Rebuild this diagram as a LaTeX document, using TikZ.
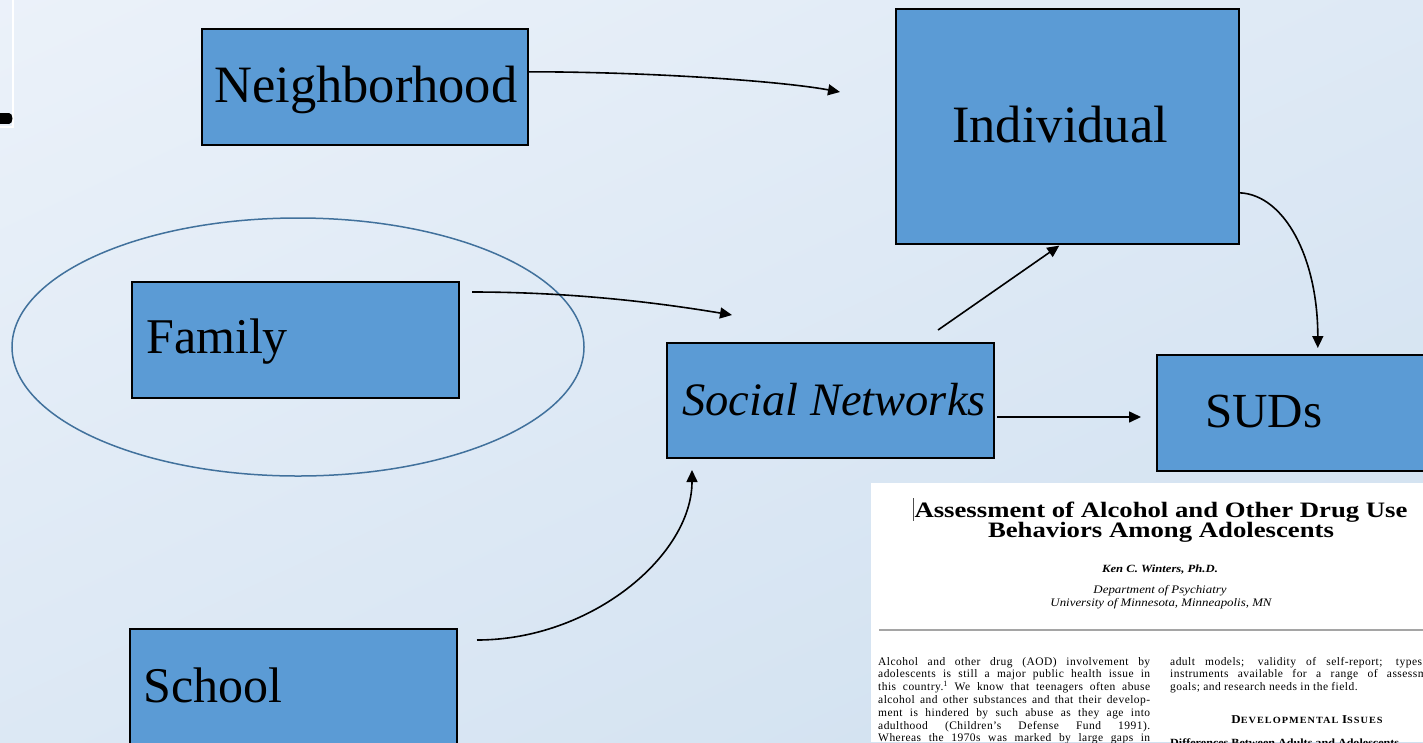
\documentclass[tikz,border=0pt]{standalone}
\usepackage{fontspec}
\usepackage{graphicx}
\setmainfont{Liberation Serif}
\newfontfamily\paperfont[LetterSpace=4]{Liberation Serif}
\newfontfamily\headfont[LetterSpace=10]{Liberation Serif}
\usetikzlibrary{arrows.meta}

\definecolor{boxblue}{RGB}{91,155,213}
\definecolor{ringblue}{RGB}{65,113,156}
\definecolor{bgtop}{RGB}{236,242,250}
\definecolor{bgbot}{RGB}{206,223,239}
\definecolor{rulegray}{RGB}{165,165,165}

\begin{document}
\begin{tikzpicture}[x=1pt,y=-1pt,
  box/.style={draw=black, line width=1.6pt, fill=boxblue, inner sep=0pt, anchor=north west},
  lbl/.style={anchor=base west, inner sep=0pt, font=\fontsize{#1}{#1}\selectfont},
  link/.style={line width=1.6pt, -{Triangle[length=12pt,width=11pt]}},
  ptext/.style={inner sep=0pt, anchor=base west, font=\paperfont\fontsize{11.5}{13}\selectfont},
  ctext/.style={inner sep=0pt, anchor=base},
]
\useasboundingbox (0,0) rectangle (1423,742);
\clip (0,0) rectangle (1423,742);

% background
\shade[top color=bgtop, bottom color=bgbot, shading angle=25] (-200,-200) rectangle (1623,942);
\draw[white, line width=1.5pt] (13,0) -- (13,127) -- (0,127);
\fill[black] (0,113) rectangle (9,124);
\fill[black] (9,118.5) ellipse (3.5 and 5.5);

% grouping ring around the family box
\draw[ringblue, line width=1.5pt] (298,347) ellipse (286 and 129);

% boxes
\node[box, minimum width=326pt, minimum height=116pt] (nbh) at (201,28) {};
\node[box, minimum width=343pt, minimum height=235pt] (ind) at (895,8) {};
\node[box, minimum width=327pt, minimum height=116pt] (fam) at (131,281) {};
\node[box, minimum width=327pt, minimum height=115pt] (soc) at (666,342) {};
\node[box, minimum width=300pt, minimum height=116pt] (sud) at (1156,354) {};
\node[box, minimum width=327pt, minimum height=150pt] (sch) at (129,628) {};

% labels
\node[lbl=52.5] (nbht) at (214,102) {Neighborhood};
\node[lbl=52.5] (indt) at (952,142) {Individual};
\node[lbl=50] (famt) at (146,353) {Family};
\node[lbl=46.5] (soct) at (682,415) {\itshape Social Networks};
\node[lbl=49] (sudt) at (1205,427) {SUDs};
\node[lbl=50] (scht) at (143,702) {School};

% free ends of connectors
\coordinate (nbhend) at (840,92);
\coordinate (famout) at (472,292);
\coordinate (famend) at (732,315);
\coordinate (schout) at (477,640);
\coordinate (schend) at (692,470);
\coordinate (socup) at (938,330);
\coordinate (socout) at (997,417);
\coordinate (sudin) at (1141,417);

% connectors
\draw[link] ([yshift=15pt]nbh.east) .. controls +(120,0) and +(-60,-11) .. (nbhend);
\draw[link] (famout) .. controls +(110,0) and +(-60,-10) .. (famend);
\draw[link] (schout) .. controls +(115,0) and +(0,85) .. (schend);
\draw[link] (socup) -- ([xshift=-8pt,yshift=-1pt]ind.south);
\draw[link] (socout) -- (sudin);
\draw[link] ([yshift=-66.5pt]ind.east) .. controls +(45,2) and +(0,-90) .. ([xshift=11pt,yshift=6pt]sud.north);

% article excerpt
\fill[white] (871,483) rectangle (1423,742);
\draw[line width=0.8pt, black!70] (913,498) -- (913,521);
\node[ctext, font=\fontsize{22}{24}\selectfont\bfseries] (ttl1) at (1161,517)
  {\scalebox{1.215}[1]{Assessment of Alcohol and Other Drug Use}};
\node[ctext, font=\fontsize{22}{24}\selectfont\bfseries] (ttl2) at (1161,537)
  {\scalebox{1.215}[1]{Behaviors Among Adolescents}};
\node[ctext, font=\fontsize{11}{12}\selectfont\bfseries\itshape] (auth) at (1160,572)
  {\scalebox{1.15}[1]{Ken C. Winters, Ph.D.}};
\node[ctext, font=\fontsize{11.5}{12}\selectfont\itshape] (dept) at (1160,593)
  {\scalebox{1.12}[1]{Department of Psychiatry}};
\node[ctext, font=\fontsize{11.5}{12}\selectfont\itshape] (univ) at (1161,606)
  {\scalebox{1.12}[1]{University of Minnesota, Minneapolis, MN}};
\draw[rulegray, line width=1.5pt] (879,630) -- (1423,630);

\node[ptext] (l1) at (878,665) {\makebox[272pt][s]{Alcohol and other drug (AOD) involvement by}};
\node[ptext] (l2) at (878,677.8) {\makebox[272pt][s]{adolescents is still a major public health issue in}};
\node[ptext] (l3) at (878,690.6) {\makebox[272pt][s]{this country.\textsuperscript{1} We know that teenagers often abuse}};
\node[ptext] (l4) at (878,703.4) {\makebox[272pt][s]{alcohol and other substances and that their develop-}};
\node[ptext] (l5) at (878,716.2) {\makebox[272pt][s]{ment is hindered by such abuse as they age into}};
\node[ptext] (l6) at (878,729) {\makebox[272pt][s]{adulthood (Children’s Defense Fund 1991).}};
\node[ptext] (l7) at (878,741.8) {\makebox[272pt][s]{Whereas the 1970s was marked by large gaps in}};

\node[ptext] (r1) at (1170,665) {\makebox[272pt][s]{adult models; validity of self-report; types of}};
\node[ptext] (r2) at (1170,677.8) {\makebox[272pt][s]{instruments available for a range of assessment}};
\node[ptext] (r3) at (1170,690.6) {goals; and research needs in the field.};
\node[ctext, font=\headfont\bfseries] (sect) at (1307,723)
  {\scalebox{1.08}[1]{\fontsize{12}{13}\selectfont D\fontsize{9.5}{11}\selectfont EVELOPMENTAL \fontsize{12}{13}\selectfont I\fontsize{9.5}{11}\selectfont SSUES}};
\node[ptext, font=\fontsize{11}{12}\selectfont\bfseries] (subh) at (1170,746)
  {\scalebox{1.1}[1]{Differences Between Adults and Adolescents}};
\end{tikzpicture}
\end{document}
